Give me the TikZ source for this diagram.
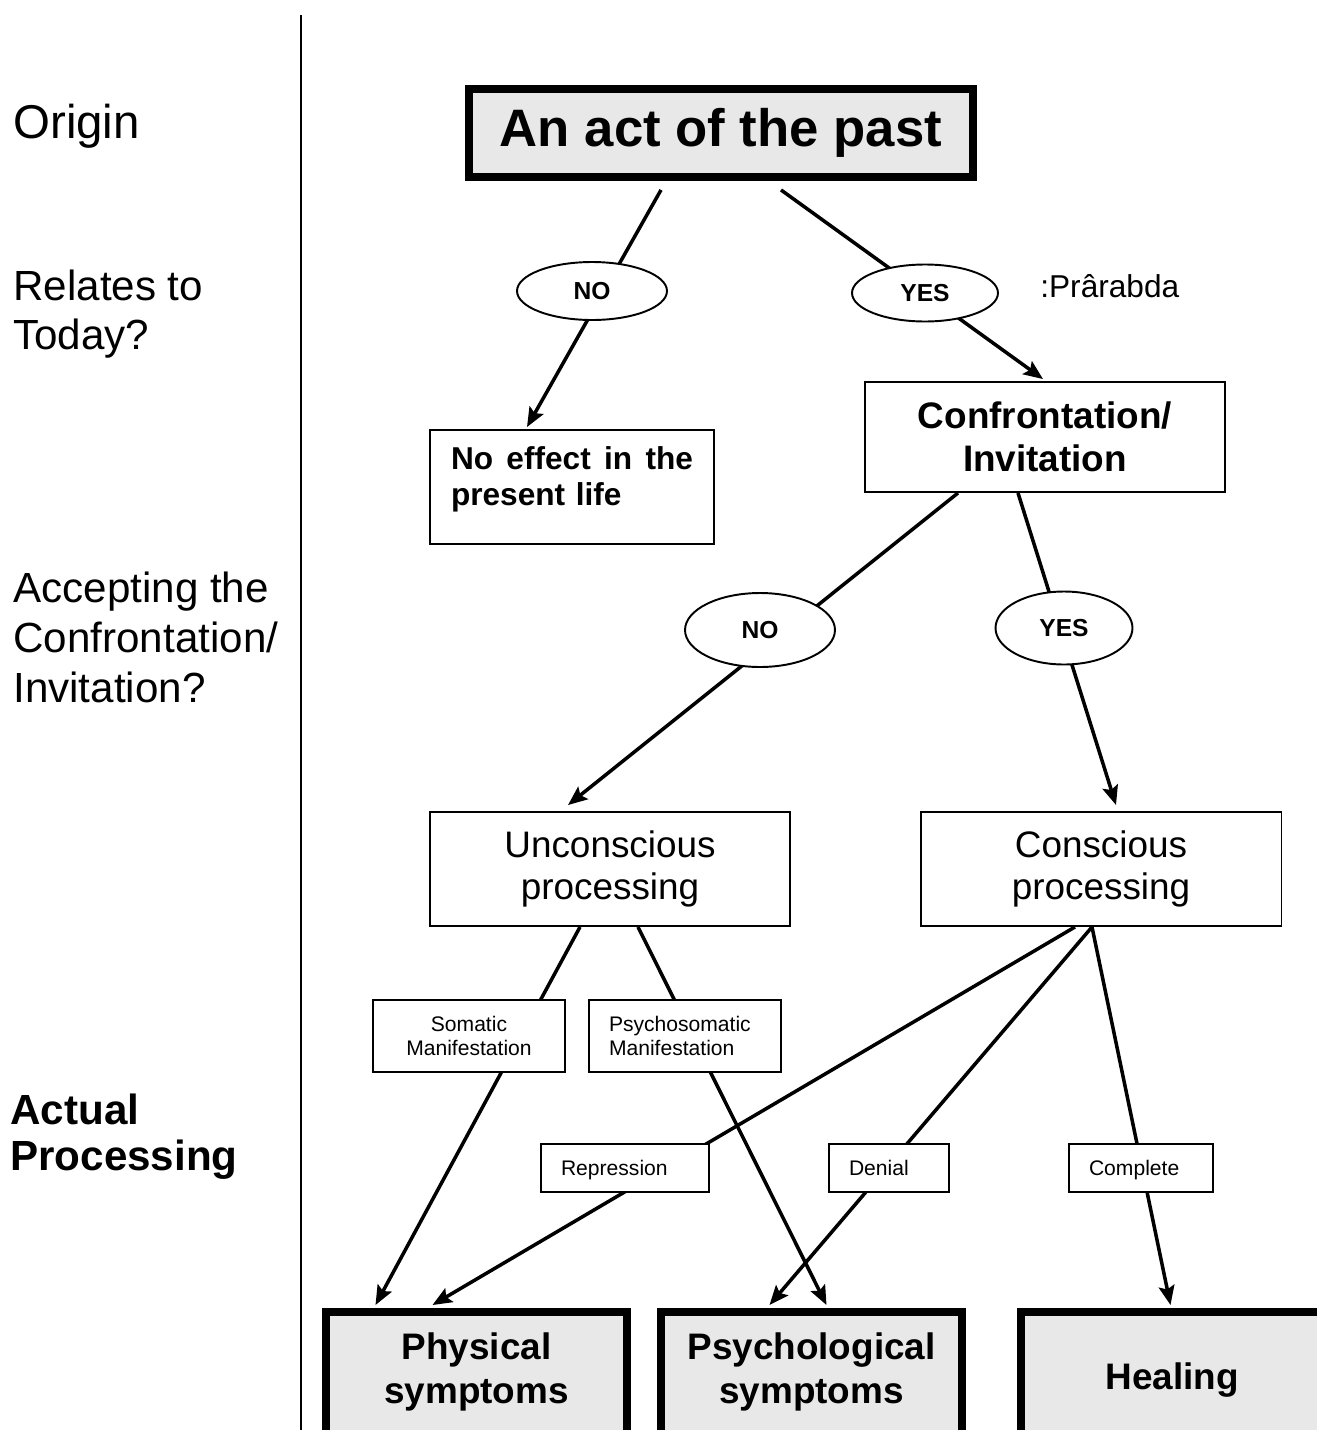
\documentclass[tikz,border=0pt]{standalone}
\usepackage{fontspec}
\setmainfont{Liberation Sans}
\usetikzlibrary{positioning, arrows.meta, shapes.geometric, calc, backgrounds}
\definecolor{Shade}{HTML}{E8E8E8}

\tikzset{
  heavybox/.style={draw, line width=4.5pt, fill=Shade, inner sep=0pt},
  thinbox/.style={draw, line width=1.1pt, fill=white},
  choice/.style={ellipse, draw, line width=1.1pt, fill=white, inner sep=0pt,
                 font=\fontsize{14}{16}\selectfont\bfseries},
  sidelabel/.style={anchor=north west, inner sep=0pt, align=left},
  tagbox/.style={thinbox, inner xsep=0.4cm, align=left, minimum height=0.96cm,
                 font=\fontsize{12}{13.6}\selectfont},
  oneline/.style={text height=11pt, text depth=2.4pt},
  link/.style={line width=2pt},
  arrow/.style={link, -{Stealth[length=11pt, width=9pt, inset=2pt]}},
}

\begin{document}
\begin{tikzpicture}[x=0.02cm, y=-0.02cm]
\useasboundingbox (0,0) rectangle (1317,1430);
\clip (0,0) rectangle (1317,1430);

\draw[line width=1.2pt] (301,15) -- (301,1430);

\node[sidelabel, font=\fontsize{27}{32}\selectfont] (origin) at (13,104) {Origin};
\node[sidelabel, font=\fontsize{24}{27.5}\selectfont] (relates) at (13,270) {Relates to\\Today?};
\node[sidelabel, font=\fontsize{24}{28.3}\selectfont] (accept) at (13,572)
    {Accepting the\\Confrontation/\\Invitation?};
\node[sidelabel, font=\fontsize{24}{26}\selectfont\bfseries] (actual) at (10,1094)
    {Actual\\Processing};

\node[heavybox, minimum width=10.08cm, minimum height=1.76cm,
      font=\fontsize{30}{36}\selectfont\bfseries] (act) at (721,133) {An act of the past};

\node[choice, minimum width=3cm, minimum height=1.16cm] (no1) at (592,291) {NO};
\node[choice, minimum width=2.92cm, minimum height=1.14cm] (yes1) at (925,293) {YES};
\node[anchor=north west, inner sep=0pt, font=\fontsize{18}{21}\selectfont]
    (prarabda) at (1040,274) {:Prârabda};

\node[thinbox, text width=4.84cm, inner xsep=0.42cm, align=left, minimum height=2.28cm,
      font=\fontsize{18}{20.4}\selectfont\bfseries] (noeff) at (572,487)
    {No\hfill effect\hfill in\hfill the\\present life\\[-8pt]\mbox{}};
\node[thinbox, minimum width=7.2cm, minimum height=2.2cm, align=center,
      font=\fontsize{21}{24.4}\selectfont\bfseries] (conf) at (1045,437)
    {Confrontation/\\Invitation};

\node[choice, minimum width=3cm, minimum height=1.48cm] (no2) at (760,630) {NO};
\node[choice, minimum width=2.74cm, minimum height=1.46cm] (yes2) at (1064,628) {YES};

\node[thinbox, minimum width=7.2cm, minimum height=2.28cm, align=center,
      font=\fontsize{21}{23.8}\selectfont] (uncon) at (610,869) {Unconscious\\processing};
\node[thinbox, minimum width=7.22cm, minimum height=2.28cm, align=center,
      font=\fontsize{21}{23.8}\selectfont] (consc) at (1101,869) {Conscious\\processing};

\node[thinbox, minimum width=3.84cm, minimum height=1.44cm, align=center,
      font=\fontsize{12}{13.6}\selectfont] (somatic) at (469,1036) {Somatic\\Manifestation};
\node[tagbox, text width=3.04cm, minimum height=1.44cm] (psychosom) at (685,1036)
    {Psychosomatic\\Manifestation};

\node[tagbox, oneline, text width=2.56cm] (repress) at (625,1168) {Repression};
\node[tagbox, oneline, text width=1.6cm] (denial) at (889,1168) {Denial};
\node[tagbox, oneline, text width=2.08cm] (complete) at (1141,1168) {Complete};

\node[heavybox, anchor=north, minimum width=6.02cm, minimum height=3cm] (physbox) at (476.5,1308) {};
\node[heavybox, anchor=north, minimum width=6.02cm, minimum height=3cm] (psychbox) at (811.5,1308) {};
\node[heavybox, anchor=north, minimum width=6.02cm, minimum height=3cm] (healbox) at (1171.5,1308) {};
\node[align=center, font=\fontsize{21}{25}\selectfont\bfseries] (phys) at (476.5,1372) {Physical\\symptoms};
\node[align=center, font=\fontsize{21}{25}\selectfont\bfseries] (psych) at (811.5,1372) {Psychological\\symptoms};
\node[font=\fontsize{21}{25}\selectfont\bfseries] (heal) at (1172,1380) {Healing};

\begin{scope}[on background layer]
\draw[arrow] ($(act.south)+(-60,9)$) -- ($(noeff.north)+(-45,-2)$);
\draw[arrow] ($(act.south)+(60,9)$) -- ($(conf.north)+(-2,-2)$);
\draw[arrow] ($(conf.south)+(-87,0)$) -- ($(uncon.north)+(-42,-6)$);
\draw[arrow] ($(conf.south)+(-27,0)$) -- ($(consc.north)+(15,-6)$);
\draw[arrow] ($(uncon.south)+(-30,0)$) -- ($(physbox.north)+(-101,-3)$);
\draw[arrow] ($(uncon.south)+(28,0)$) -- ($(psychbox.north)+(15,-3)$);
\draw[arrow] ($(consc.south)+(-26,0)$) -- ($(physbox.north)+(-44,-3)$);
\draw[arrow] ($(consc.south)+(-9,0)$) -- ($(psychbox.north)+(-42,-3)$);
\draw[arrow] ($(consc.south)+(-9,0)$) -- ($(healbox.north)+(-1,-3)$);
\end{scope}
\end{tikzpicture}
\end{document}
